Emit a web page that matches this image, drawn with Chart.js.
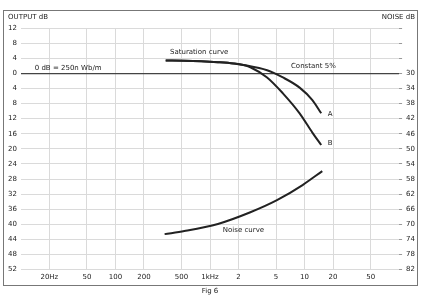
<!DOCTYPE html>
<html>
<head>
<meta charset="utf-8">
<script src="https://cdn.jsdelivr.net/npm/chart.js@4/dist/chart.umd.min.js"></script>
<style>
  html, body { margin: 0; padding: 0; background: #fff; }
  #wrap { width: 423px; height: 297px; }
</style>
</head>
<body>
<div id="wrap"><canvas id="fig"></canvas></div>
<script>
"use strict";

// frequency axis (Hz) and its printed labels
const freqTicks = [20, 50, 100, 200, 500, 1000, 2000, 5000, 10000, 20000, 50000];
const freqLabels = ['20Hz', '50', '100', '200', '500', '1kHz', '2', '5', '10', '20', '50'];

// saturation curve, common part (output dB)
const satFreq = [340, 536, 806, 1212, 1778, 2258];
const satDb = [3.4, 3.35, 3.2, 2.95, 2.6, 2.2];

// branch A (upper) and branch B (lower)
const aFreq = [4015, 5900, 8870, 12100, 15000];
const aDb = [0.8, -1.1, -3.8, -7.1, -10.6];
const bFreq = [2673, 4015, 5900, 8870, 12100, 15000];
const bDb = [1.6, -1.1, -5.3, -10.6, -15.7, -19.0];

// noise curve (noise dB, right scale)
const noiseFreq = [331, 536, 1212, 2673, 5110, 9530, 15400];
const noiseDb = [72.6, 71.8, 69.9, 66.8, 63.6, 59.6, 55.9];

const toPts = (xs, ys) => xs.map((x, i) => ({ x: x, y: ys[i] }));

const ink = '#222';
const font = { family: 'DejaVu Sans', size: 7 };

const curveStyle = {
  borderColor: ink,
  borderWidth: 2,
  pointRadius: 0,
  fill: false,
  cubicInterpolationMode: 'monotone'
};

// frame, headings and curve notes
const notes = {
  id: 'notes',
  afterDraw(chart) {
    const c = chart.ctx;
    const x = chart.scales.x;
    const y = chart.scales.y;
    const y2 = chart.scales.y2;
    const area = chart.chartArea;

    c.save();
    c.strokeStyle = '#777';
    c.lineWidth = 1;
    c.strokeRect(3.5, 10.5, 414, 275);

    c.fillStyle = ink;
    c.font = '7px "DejaVu Sans"';
    c.textBaseline = 'middle';

    c.textAlign = 'left';
    c.fillText('OUTPUT dB', 8, 17);
    c.textAlign = 'right';
    c.fillText('NOISE dB', 415, 17);

    c.textAlign = 'center';
    c.fillText('0 dB = 250n Wb/m', x.getPixelForValue(31.6), y.getPixelForValue(1.3));
    c.fillText('Saturation curve', x.getPixelForValue(768), y.getPixelForValue(5.6));
    c.fillText('Constant 5%', x.getPixelForValue(12400), y.getPixelForValue(1.9));
    c.fillText('A', x.getPixelForValue(18650), y.getPixelForValue(-10.8));
    c.fillText('B', x.getPixelForValue(18650), y.getPixelForValue(-18.5));
    c.fillText('Noise curve', x.getPixelForValue(2260), y2.getPixelForValue(71.5));
    c.fillText('Fig 6', (area.left + area.right) / 2, 291);
    c.restore();
  }
};

new Chart(document.getElementById('fig'), {
  type: 'line',
  data: {
    datasets: [
      Object.assign({ data: toPts(satFreq.concat(aFreq), satDb.concat(aDb)), yAxisID: 'y' }, curveStyle),
      Object.assign({ data: toPts(satFreq.concat(bFreq), satDb.concat(bDb)), yAxisID: 'y' }, curveStyle),
      Object.assign({ data: toPts(noiseFreq, noiseDb), yAxisID: 'y2' }, curveStyle)
    ]
  },
  options: {
    responsive: true,
    maintainAspectRatio: false,
    animation: false,
    layout: { padding: { left: 4, right: 4, top: 28, bottom: 13 } },
    plugins: {
      legend: { display: false },
      tooltip: { enabled: false }
    },
    scales: {
      x: {
        type: 'logarithmic',
        min: 10,
        max: 100000,
        afterBuildTicks: (ax) => { ax.ticks = freqTicks.map((v) => ({ value: v })); },
        ticks: {
          autoSkip: false,
          maxRotation: 0,
          padding: 3,
          color: ink,
          font: font,
          callback: (v) => {
            const i = freqTicks.indexOf(v);
            return i >= 0 ? freqLabels[i] : '';
          }
        },
        grid: { color: '#dadada', lineWidth: 1, drawTicks: false },
        border: { display: false }
      },
      y: {
        position: 'left',
        min: -52,
        max: 12,
        ticks: {
          stepSize: 4,
          padding: 4,
          color: ink,
          font: font,
          callback: (v) => String(Math.abs(v))
        },
        grid: {
          color: (ctx) => (ctx.tick && ctx.tick.value === 0 ? '#444' : '#dadada'),
          lineWidth: (ctx) => (ctx.tick && ctx.tick.value === 0 ? 1.3 : 1),
          drawTicks: false
        },
        border: { display: false }
      },
      y2: {
        position: 'right',
        reverse: true,
        min: 18,
        max: 82,
        ticks: {
          stepSize: 4,
          padding: 4,
          color: ink,
          font: font,
          callback: (v) => (v >= 30 ? String(v) : '')
        },
        grid: { drawOnChartArea: false, drawTicks: true, tickLength: 3, color: '#999' },
        border: { display: false }
      }
    }
  },
  plugins: [notes]
});
</script>
</body>
</html>
